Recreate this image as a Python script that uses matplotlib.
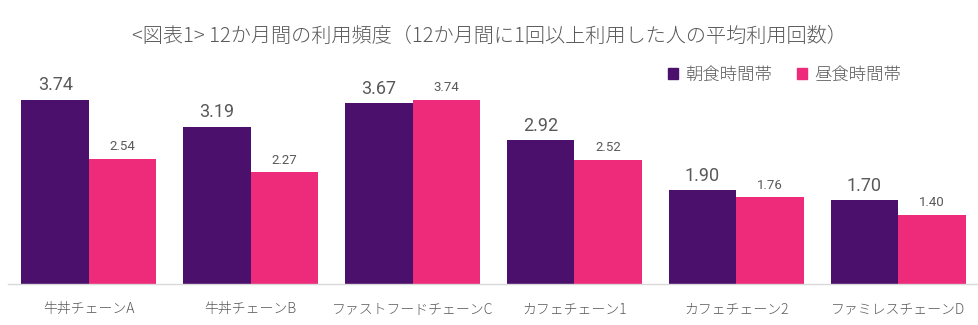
import matplotlib.pyplot as plt
from matplotlib.patches import Patch
import numpy as np

categories = ["牛丼チェーンA", "牛丼チェーンB", "ファストフードチェーンC",
              "カフェチェーン1", "カフェチェーン2", "ファミレスチェーンD"]
breakfast = [3.74, 3.19, 3.67, 2.92, 1.90, 1.70]
lunch = [2.54, 2.27, 3.74, 2.52, 1.76, 1.40]
series_names = ["朝食時間帯", "昼食時間帯"]
title = "<図表1> 12か月間の利用頻度（12か月間に1回以上利用した人の平均利用回数）"

PURPLE = "#4a106c"
PINK = "#ee2a7b"
GRAY = "#595959"
JP = ["Noto Sans CJK JP", "DejaVu Sans"]

W, H = 979, 325
fig = plt.figure(figsize=(W / 100, H / 100), dpi=100)
ax = fig.add_axes([8 / W, 41 / H, 971 / W, 197 / H])

x = np.arange(len(categories))
bw = 0.417
b1 = ax.bar(x - bw / 2, breakfast, bw, color=PURPLE)
b2 = ax.bar(x + bw / 2, lunch, bw, color=PINK)

for rect, v in zip(b1, breakfast):
    ax.annotate(f"{v:.2f}", (rect.get_x() + rect.get_width() / 2, v),
                xytext=(0, 4), textcoords="offset points", ha="center", va="bottom",
                fontsize=13, color=GRAY, family="Roboto", annotation_clip=False)
for rect, v in zip(b2, lunch):
    ax.annotate(f"{v:.2f}", (rect.get_x() + rect.get_width() / 2, v),
                xytext=(0, 4), textcoords="offset points", ha="center", va="bottom",
                fontsize=9.5, color=GRAY, family="Roboto", annotation_clip=False)

ax.set_xlim(-0.5, len(categories) - 0.5)
ax.set_ylim(0, 4)
ax.set_xticks(x)
ax.set_xticklabels(categories, family=JP, fontsize=10, color=GRAY, fontweight="light")
ax.tick_params(axis="x", length=0, pad=13)
ax.set_yticks([])
for s in ["top", "right", "left"]:
    ax.spines[s].set_visible(False)
ax.spines["bottom"].set_color("#d9d9d9")
ax.spines["bottom"].set_linewidth(1)

fig.text(0.5, 1 - 36 / H, title, ha="center", va="center", fontsize=14.5,
         color=GRAY, family=JP, fontweight="light")

handles = [Patch(color=PURPLE), Patch(color=PINK)]
fig.legend(handles, series_names, loc="center left",
           bbox_to_anchor=(668 / W, 1 - 75 / H), frameon=False, ncol=2,
           prop={"family": JP, "size": 12.5, "weight": "light"}, labelcolor=GRAY,
           handlelength=0.6, handleheight=0.6, handletextpad=0.4,
           columnspacing=1.4, borderaxespad=0, borderpad=0)

fig.savefig("out.png", dpi=100, facecolor="white")
